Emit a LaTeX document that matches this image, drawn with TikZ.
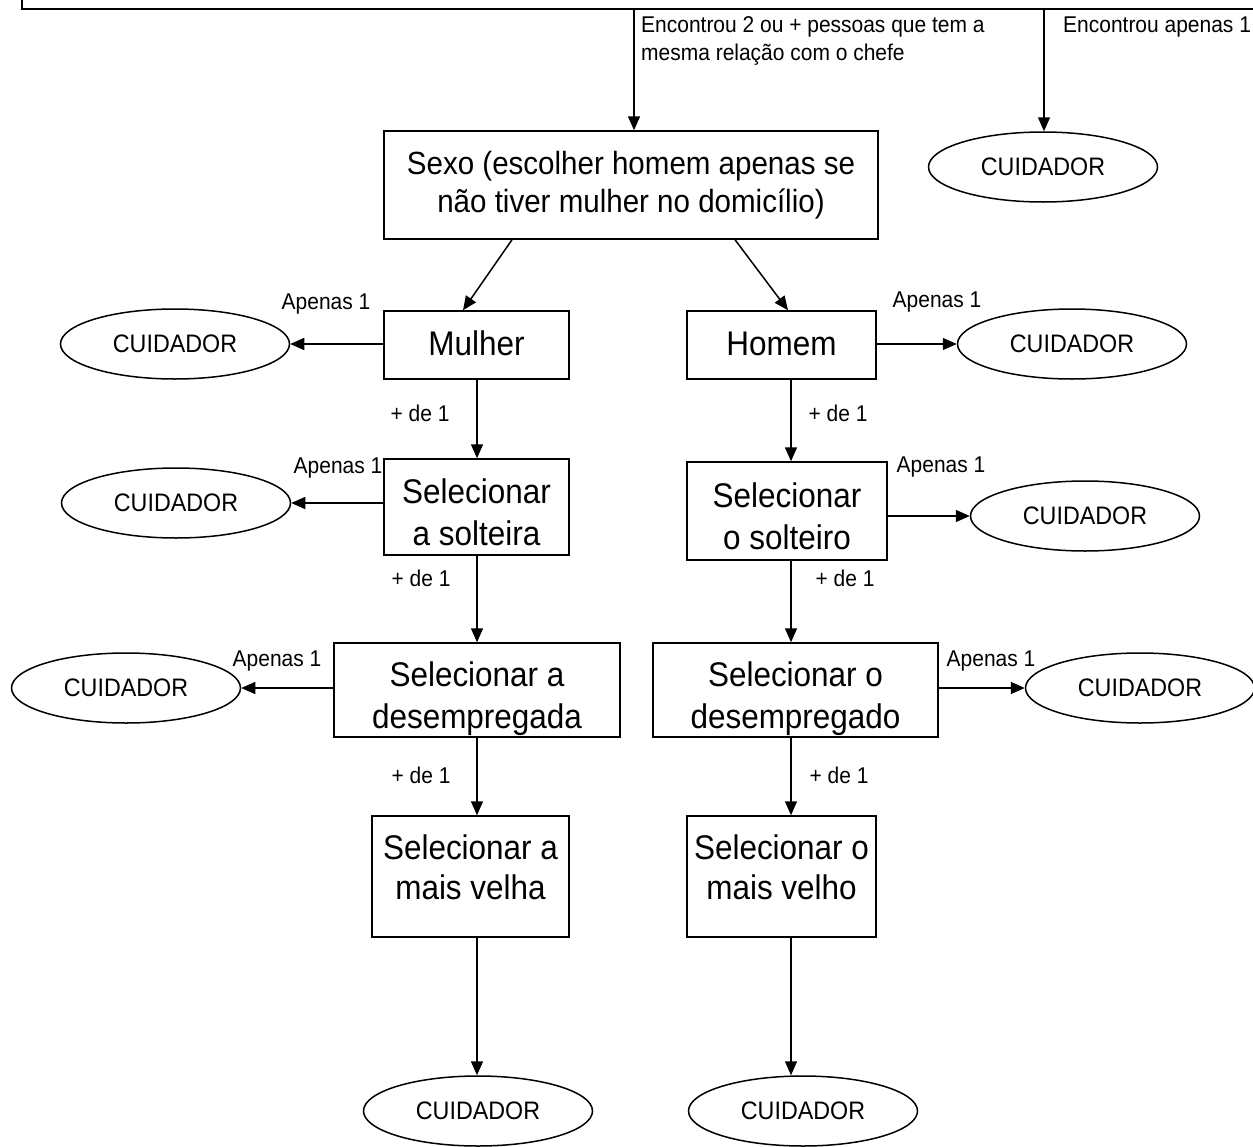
\documentclass[tikz,border=0pt]{standalone}
\usepackage{fontspec}
\setmainfont{Liberation Sans}[FakeStretch=0.92]
\usetikzlibrary{shapes.geometric,arrows.meta}
\newcommand\bt[2]{\raisebox{#1}[0pt][0pt]{\begin{tabular}{@{}c@{}}#2\end{tabular}}}
\begin{document}
\begin{tikzpicture}[x=1pt,y=-1pt,
  box/.style={draw, line width=1.5pt, inner sep=0pt, font=\fontsize{34.2}{42}\selectfont},
  cuid/.style={draw, ellipse, line width=1.5pt, minimum width=229pt, minimum height=70pt, inner sep=0pt, font=\fontsize{25.3}{30}\selectfont},
  lbl/.style={inner sep=0pt, font=\fontsize{22.8}{28}\selectfont},
  arr/.style={line width=1.5pt, -{Triangle[length=14pt,width=12pt]}},
  ln/.style={line width=1.5pt}
]
\useasboundingbox (0,0) rectangle (1253,1146);

% top frame (cut off)
\draw[ln] (22,0) -- (22,9) -- (1253,9);
\coordinate (t1) at (634,9);
\coordinate (t2) at (1044,9);
\coordinate (lx) at (477,0);
\coordinate (rx) at (791,0);

% boxes
\node[box, minimum width=494pt, minimum height=108pt, font=\fontsize{32.1}{38}\selectfont] (sexo) at (631,185)
  {\bt{-6.7pt}{Sexo (escolher homem apenas se\\não tiver mulher no domicílio)}};
\node[box, minimum width=185pt, minimum height=68pt, font=\fontsize{34.2}{38}\selectfont] (mulher) at (476.5,345) {\bt{-8.8pt}{Mulher}};
\node[box, minimum width=189pt, minimum height=68pt, font=\fontsize{34.2}{38}\selectfont] (homem) at (781.5,345) {\bt{-8.8pt}{Homem}};
\node[box, minimum width=185pt, minimum height=96pt] (solteira) at (476.5,507) {\bt{-15pt}{Selecionar\\a solteira}};
\node[box, minimum width=200pt, minimum height=98pt] (solteiro) at (787,511) {\bt{-15pt}{Selecionar\\o solteiro}};
\node[box, minimum width=286pt, minimum height=94pt] (desA) at (477,690) {\bt{-15.5pt}{Selecionar a\\desempregada}};
\node[box, minimum width=285pt, minimum height=94pt] (desO) at (795.5,690) {\bt{-15.5pt}{Selecionar o\\desempregado}};
\node[box, minimum width=197pt, minimum height=121pt, font=\fontsize{34.2}{40}\selectfont] (velha) at (470.5,876.5) {\bt{-0.9pt}{Selecionar a\\mais velha}};
\node[box, minimum width=189pt, minimum height=121pt, font=\fontsize{34.2}{40}\selectfont] (velho) at (781.5,876.5) {\bt{-0.9pt}{Selecionar o\\mais velho}};

% ellipses
\node[cuid] (cu0) at (1043,167) {CUIDADOR};
\node[cuid] (cuL1) at (175,344) {CUIDADOR};
\node[cuid] (cuR1) at (1072,344) {CUIDADOR};
\node[cuid] (cuL2) at (176,503) {CUIDADOR};
\node[cuid] (cuR2) at (1085,516) {CUIDADOR};
\node[cuid] (cuL3) at (126,688) {CUIDADOR};
\node[cuid] (cuR3) at (1140,688) {CUIDADOR};
\node[cuid] (cuB1) at (478,1111) {CUIDADOR};
\node[cuid] (cuB2) at (803,1111) {CUIDADOR};

% top connectors
\draw[arr] (t1) -- (t1 |- sexo.north);
\draw[arr] (t2) -- (t2 |- cu0.north);
\node[lbl, anchor=west, align=left] (enc1) at (641,41) {Encontrou 2 ou + pessoas que tem a\\mesma relação com o chefe};
\node[lbl, anchor=west] (enc2) at (1063,27) {Encontrou apenas 1};

% sexo split
\draw[arr] ([xshift=-119pt]sexo.south) -- ([xshift=-13.5pt]mulher.north);
\draw[arr] ([xshift=104pt]sexo.south) -- ([xshift=6.5pt]homem.north);

% horizontal "Apenas 1"
\draw[arr] (mulher.west |- cuL1) -- (cuL1);
\draw[arr] (homem.east |- cuR1) -- (cuR1);
\draw[arr] (solteira.west |- cuL2) -- (cuL2);
\draw[arr] (solteiro.east |- cuR2) -- (cuR2);
\draw[arr] (desA.west |- cuL3) -- (cuL3);
\draw[arr] (desO.east |- cuR3) -- (cuR3);
\node[lbl] (a1) at (326,304) {Apenas 1};
\node[lbl] (a2) at (937,302) {Apenas 1};
\node[lbl] (a3) at (338,468) {Apenas 1};
\node[lbl] (a4) at (941,467) {Apenas 1};
\node[lbl] (a5) at (277,661) {Apenas 1};
\node[lbl] (a6) at (991,661) {Apenas 1};

% vertical "+ de 1"
\draw[arr] (lx |- mulher.south) -- (lx |- solteira.north);
\draw[arr] (rx |- homem.south) -- (rx |- solteiro.north);
\draw[arr] (lx |- solteira.south) -- (lx |- desA.north);
\draw[arr] (rx |- solteiro.south) -- (rx |- desO.north);
\draw[arr] (lx |- desA.south) -- (lx |- velha.north);
\draw[arr] (rx |- desO.south) -- (rx |- velho.north);
\draw[arr] (lx |- velha.south) -- (lx |- cuB1.north);
\draw[arr] (rx |- velho.south) -- (rx |- cuB2.north);
\node[lbl] (p1) at (420,413) {+ de 1};
\node[lbl] (p2) at (838,413) {+ de 1};
\node[lbl] (p3) at (421,578) {+ de 1};
\node[lbl] (p4) at (845,578) {+ de 1};
\node[lbl] (p5) at (421,775) {+ de 1};
\node[lbl] (p6) at (839,775) {+ de 1};
\end{tikzpicture}
\end{document}
